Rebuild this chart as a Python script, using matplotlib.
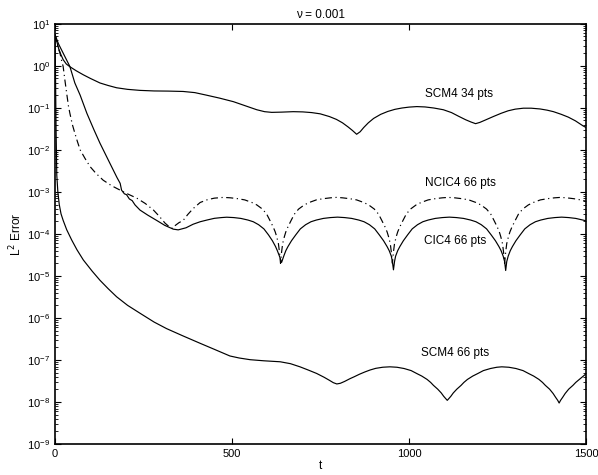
import matplotlib
matplotlib.use('Agg')
import matplotlib.pyplot as plt
from matplotlib.ticker import LogLocator, NullFormatter

plt.rcParams['font.family'] = ['Liberation Sans', 'DejaVu Sans']

# SCM4 34 pts
t_scm34 = [0, 5, 10, 16, 23, 32, 42, 60, 80, 100, 127, 150, 174, 205, 240, 280, 320, 362,
           395, 428, 465, 504, 540, 570, 592, 612, 640, 673, 700, 725, 749, 775, 795, 812,
           828, 840, 852, 862, 872, 885, 900, 920, 940, 960, 980, 1000, 1022, 1045, 1070,
           1097, 1120, 1140, 1160, 1175, 1188, 1200, 1215, 1238, 1260, 1280, 1300, 1323,
           1345, 1370, 1390, 1408, 1430, 1450, 1470, 1492, 1500]
e_scm34 = [5.5, 3.8, 2.6, 1.9, 1.4, 1.1, 0.95, 0.76, 0.61, 0.5, 0.39, 0.34, 0.30, 0.275,
           0.26, 0.252, 0.25, 0.245, 0.23, 0.20, 0.17, 0.14, 0.11, 0.09, 0.081, 0.078, 0.079,
           0.081, 0.08, 0.077, 0.072, 0.062, 0.053, 0.044, 0.035, 0.029, 0.0235, 0.027, 0.034,
           0.044, 0.056, 0.07, 0.082, 0.092, 0.099, 0.104, 0.107, 0.105, 0.099, 0.09, 0.077,
           0.063, 0.052, 0.046, 0.042, 0.045, 0.051, 0.062, 0.074, 0.085, 0.093, 0.098, 0.098,
           0.094, 0.088, 0.081, 0.07, 0.06, 0.049, 0.037, 0.034]

# CIC4 66 pts
t_cic = [0, 10, 23, 42, 56, 71, 90, 110, 127, 155, 175, 184, 188, 196, 202, 210, 218, 226,
         240, 262, 287, 310, 334, 348, 370, 390, 410, 430, 450, 470, 485, 505, 525, 545,
         560, 575, 590, 603, 614, 623, 628, 634, 640,
         646, 652, 658, 668, 680, 693, 708, 723, 738, 758, 778, 798, 818, 838, 858, 873,
         888, 903, 916, 928, 938, 944, 950, 953, 956,
         959, 962, 968, 974, 984, 996, 1009, 1024, 1039, 1054, 1074, 1094, 1114, 1134,
         1154, 1174, 1189, 1204, 1219, 1232, 1244, 1254, 1260, 1266, 1270, 1273,
         1276, 1280, 1286, 1292, 1302, 1314, 1327, 1342, 1357, 1372, 1392, 1412, 1431,
         1451, 1471, 1491, 1500]
e_cic = [5.5, 3.3, 2.0, 0.96, 0.39, 0.20, 0.074, 0.03, 0.0144, 0.0048, 0.0022, 0.0016,
         0.0011, 9.0e-4, 8.6e-4, 6.8e-4, 6.2e-4, 4.9e-4, 3.7e-4, 2.8e-4, 2.1e-4, 1.6e-4,
         1.3e-4, 1.25e-4, 1.4e-4, 1.7e-4, 1.95e-4, 2.15e-4, 2.35e-4, 2.45e-4, 2.5e-4,
         2.45e-4, 2.34e-4, 2.14e-4, 1.95e-4, 1.66e-4, 1.32e-4, 9.5e-5, 6.9e-5, 5.0e-5,
         4.0e-5, 2.95e-5, 2.1e-5,
         2.95e-5, 4.0e-5, 5.0e-5, 6.9e-5, 9.5e-5, 1.32e-4, 1.66e-4, 1.95e-4, 2.14e-4,
         2.34e-4, 2.45e-4, 2.51e-4, 2.45e-4, 2.34e-4, 2.14e-4, 1.95e-4, 1.66e-4, 1.32e-4,
         9.5e-5, 6.9e-5, 5.0e-5, 4.0e-5, 2.95e-5, 2.2e-5, 1.4e-5,
         2.2e-5, 2.95e-5, 4.0e-5, 5.0e-5, 6.9e-5, 9.5e-5, 1.32e-4, 1.66e-4, 1.95e-4,
         2.14e-4, 2.34e-4, 2.45e-4, 2.51e-4, 2.45e-4, 2.34e-4, 2.14e-4, 1.95e-4, 1.66e-4,
         1.32e-4, 9.5e-5, 6.9e-5, 5.0e-5, 4.0e-5, 2.95e-5, 2.2e-5, 1.35e-5,
         2.2e-5, 2.95e-5, 4.0e-5, 5.0e-5, 6.9e-5, 9.5e-5, 1.32e-4, 1.66e-4, 1.95e-4,
         2.14e-4, 2.34e-4, 2.45e-4, 2.51e-4, 2.45e-4, 2.34e-4, 2.14e-4, 2.05e-4]

# NCIC4 66 pts
t_ncic = [0, 5, 10, 14, 18, 23, 28, 33, 38, 42, 49, 56, 63, 71, 85, 99, 115, 136, 160, 184,
          207, 231, 255, 278, 295, 311, 322, 332, 340, 350, 362, 375, 390, 410, 430, 450,
          476, 496, 516, 536, 556, 570, 586, 598, 607, 616, 622, 626, 631, 634, 637,
          640, 643, 648, 652, 658, 667, 676, 688, 704, 718, 738, 758, 778, 795,
          812, 832, 852, 872, 886, 902, 914, 923, 932, 938, 942, 947, 950, 953,
          956, 959, 964, 968, 974, 983, 992, 1004, 1020, 1034, 1054, 1074, 1094, 1111,
          1129, 1149, 1169, 1189, 1203, 1219, 1231, 1240, 1249, 1255, 1259, 1264, 1267, 1270,
          1273, 1276, 1281, 1285, 1291, 1300, 1309, 1321, 1337, 1351, 1371, 1391, 1411, 1428,
          1445, 1465, 1485, 1500]
e_ncic = [5.5, 3.5, 2.5, 2.0, 1.4, 0.96, 0.45, 0.22, 0.11, 0.074, 0.04, 0.025, 0.016, 0.010,
          0.0062, 0.004, 0.0028, 0.0019, 0.0014, 0.0011, 8.8e-4, 7.1e-4, 5.3e-4, 3.7e-4,
          2.6e-4, 1.8e-4, 1.5e-4, 1.35e-4, 1.6e-4, 1.85e-4, 2.1e-4, 2.9e-4, 4.0e-4, 5.6e-4,
          6.5e-4, 7.1e-4, 7.4e-4,
          7.23e-4, 6.9e-4, 6.45e-4, 5.6e-4, 4.9e-4, 3.9e-4, 2.95e-4, 2.1e-4, 1.48e-4,
          1.12e-4, 8.7e-5, 5.9e-5, 3.7e-5, 2.0e-5,
          3.7e-5, 5.9e-5, 8.7e-5, 1.12e-4, 1.48e-4, 2.1e-4, 2.95e-4, 3.9e-4, 4.9e-4, 5.6e-4,
          6.45e-4, 6.9e-4, 7.23e-4, 7.4e-4,
          7.23e-4, 6.9e-4, 6.45e-4, 5.6e-4, 4.9e-4, 3.9e-4, 2.95e-4, 2.1e-4, 1.48e-4,
          1.12e-4, 8.7e-5, 5.9e-5, 3.7e-5, 2.0e-5,
          3.7e-5, 5.9e-5, 8.7e-5, 1.12e-4, 1.48e-4, 2.1e-4, 2.95e-4, 3.9e-4, 4.9e-4, 5.6e-4,
          6.45e-4, 6.9e-4, 7.23e-4, 7.4e-4,
          7.23e-4, 6.9e-4, 6.45e-4, 5.6e-4, 4.9e-4, 3.9e-4, 2.95e-4, 2.1e-4, 1.48e-4,
          1.12e-4, 8.7e-5, 5.9e-5, 3.7e-5, 2.0e-5,
          3.7e-5, 5.9e-5, 8.7e-5, 1.12e-4, 1.48e-4, 2.1e-4, 2.95e-4, 3.9e-4, 4.9e-4, 5.6e-4,
          6.45e-4, 6.9e-4, 7.23e-4, 7.4e-4,
          7.23e-4, 6.9e-4, 6.45e-4, 6.0e-4]

# SCM4 66 pts
t_scm66 = [0, 1.5, 3, 5, 8, 12, 17, 23, 33, 47, 62, 80, 105, 127, 150, 174, 205, 240, 280,
           315, 360, 410, 450, 494, 520, 551, 590, 636, 665, 692, 715, 739, 760, 775, 786,
           796, 806, 818, 833, 845, 860, 875, 890, 906, 926, 946,
           966, 986, 1006, 1022, 1036, 1051, 1061, 1069, 1081, 1091, 1098, 1104, 1108,
           1112, 1118, 1125, 1135, 1147, 1155, 1165, 1180, 1194, 1210, 1230, 1248, 1262,
           1282, 1302, 1322, 1338, 1352, 1367, 1377, 1385, 1397, 1407, 1414, 1420, 1424,
           1428, 1434, 1441, 1451, 1463, 1471, 1481, 1490, 1500]
e_scm66 = [5.5, 0.5, 0.03, 2.5e-3, 1.0e-3, 5.0e-4, 3.0e-4, 2.1e-4, 1.26e-4, 7.2e-5, 4.2e-5,
           2.4e-5, 1.3e-5, 7.9e-6, 5.0e-6, 3.2e-6, 2.0e-6, 1.3e-6, 8.0e-7, 5.6e-7, 3.8e-7,
           2.5e-7, 1.8e-7, 1.25e-7, 1.12e-7, 1.02e-7, 9.6e-8, 9.1e-8, 8.2e-8, 6.9e-8, 5.8e-8,
           4.8e-8, 3.9e-8, 3.3e-8, 2.9e-8, 2.7e-8, 2.8e-8, 3.1e-8, 3.6e-8, 4.0e-8, 4.6e-8,
           5.2e-8, 5.8e-8, 6.35e-8, 6.75e-8, 6.9e-8,
           6.74e-8, 6.29e-8, 5.61e-8, 4.77e-8, 4.16e-8, 3.46e-8, 2.94e-8, 2.5e-8, 2.03e-8,
           1.65e-8, 1.37e-8, 1.2e-8, 1.1e-8,
           1.2e-8, 1.37e-8, 1.65e-8, 2.03e-8, 2.5e-8, 2.94e-8, 3.46e-8, 4.16e-8, 4.77e-8,
           5.61e-8, 6.29e-8, 6.74e-8, 6.9e-8,
           6.74e-8, 6.29e-8, 5.61e-8, 4.77e-8, 4.16e-8, 3.46e-8, 2.94e-8, 2.5e-8, 2.03e-8,
           1.6e-8, 1.3e-8, 1.1e-8, 9.5e-9,
           1.1e-8, 1.3e-8, 1.6e-8, 2.03e-8, 2.5e-8, 2.94e-8, 3.46e-8, 4.0e-8, 4.7e-8]

labels = ['SCM4 34 pts', 'NCIC4 66 pts', 'CIC4 66 pts', 'SCM4 66 pts']
label_x = [1140, 1144, 1130, 1130]
label_y = [0.21, 1.66e-3, 6.9e-5, 1.45e-7]

fig = plt.figure(figsize=(5.98, 4.75), dpi=100)
ax = fig.add_axes([0.092, 0.065, 0.888, 0.885])

ax.semilogy(t_scm34, e_scm34, color='black', lw=0.85)
ax.semilogy(t_cic, e_cic, color='black', lw=0.85)
ax.semilogy(t_ncic, e_ncic, color='black', lw=0.85, linestyle=(0, (6, 3, 1, 3)))
ax.semilogy(t_scm66, e_scm66, color='black', lw=0.85)

for s, x, y in zip(labels, label_x, label_y):
    ax.text(x, y, s, fontsize=8.5, ha='center', va='center')

ax.set_xlim(0, 1500)
ax.set_ylim(1e-9, 1e1)
ax.set_xticks([0, 500, 1000, 1500])
ax.yaxis.set_major_locator(LogLocator(base=10, numticks=20))
ax.yaxis.set_minor_locator(LogLocator(base=10, subs=range(2, 10), numticks=20))
ax.yaxis.set_minor_formatter(NullFormatter())
ax.tick_params(which='both', direction='in', top=True, right=True, labelsize=8)
ax.tick_params(which='major', length=4)
ax.tick_params(which='minor', length=2)
for sp in ax.spines.values():
    sp.set_linewidth(1.2)

ax.set_title('ν = 0.001', fontsize=8.5, pad=4)
ax.set_xlabel('t', fontsize=8.5, labelpad=1)
ax.set_ylabel('L$^2$ Error', fontsize=8.5, labelpad=2)

fig.savefig('out.png', dpi=100)
